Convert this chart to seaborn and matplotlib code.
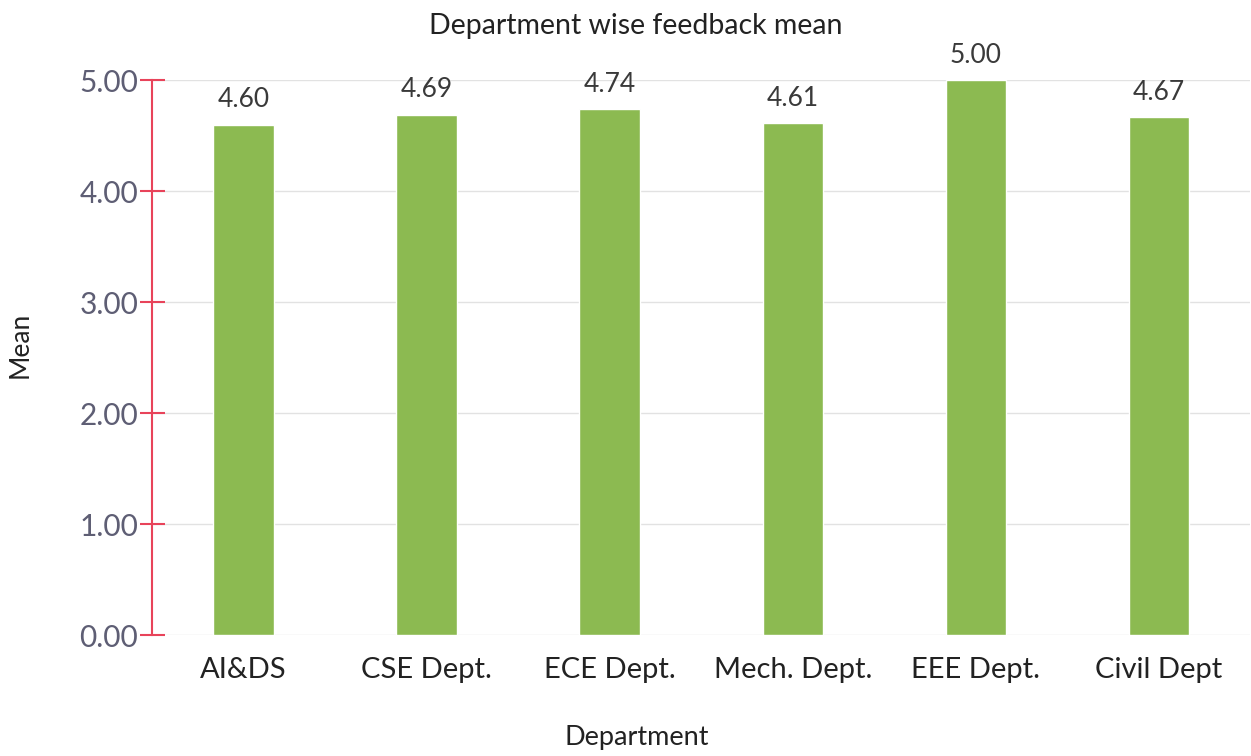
import matplotlib
matplotlib.use("Agg")
import matplotlib.pyplot as plt
import seaborn as sns
import pandas as pd

departments = ["AI&DS", "CSE Dept.", "ECE Dept.", "Mech. Dept.", "EEE Dept.", "Civil Dept"]
means = [4.60, 4.69, 4.74, 4.61, 5.00, 4.67]
yticks = [0, 1, 2, 3, 4, 5]

sns.set_theme(style="white")
plt.rcParams['font.family'] = ['Lato', 'DejaVu Sans']

df = pd.DataFrame({"Department": departments, "Mean": means})

fig = plt.figure(figsize=(12.51, 7.56), dpi=100)
ax = fig.add_axes([0.1215, 0.16, 0.878, 0.734])

sns.barplot(data=df, x="Department", y="Mean", color="#8CBA51", width=0.33,
            saturation=1, ax=ax, zorder=3)

ax.set_ylim(0, 5)
ax.set_xlim(-0.5, 5.5)
ax.set_yticks(yticks)
ax.set_yticklabels([f"{v:.2f}" for v in yticks], fontsize=21.5, color="#5E5E74")
ax.tick_params(axis="x", labelsize=21, colors="#222222", length=0, pad=16)
ax.tick_params(axis="y", left=True, direction="inout", length=18, width=1.5,
               color="#E8435A", pad=1)

ax.yaxis.grid(True, color="#E2E2E2", linewidth=1, zorder=0)
for s in ["top", "right", "bottom"]:
    ax.spines[s].set_visible(False)
ax.spines["left"].set_color("#E8435A")
ax.spines["left"].set_linewidth(1.5)

for i, v in enumerate(means):
    ax.text(i, v + 0.11, f"{v:.2f}", ha="center", va="bottom", fontsize=19,
            color="#3A3A3A", clip_on=False)

fig.text(0.508, 0.966, "Department wise feedback mean", fontsize=20.5,
         color="#222222", ha="center", va="center")
fig.text(0.509, 0.024, "Department", fontsize=19.5, color="#222222",
         ha="center", va="center")
fig.text(0.016, 0.544, "Mean", fontsize=19, color="#222222", rotation=90,
         ha="center", va="center")
ax.set_xlabel("")
ax.set_ylabel("")

fig.savefig("out.png", dpi=100, facecolor="white")
